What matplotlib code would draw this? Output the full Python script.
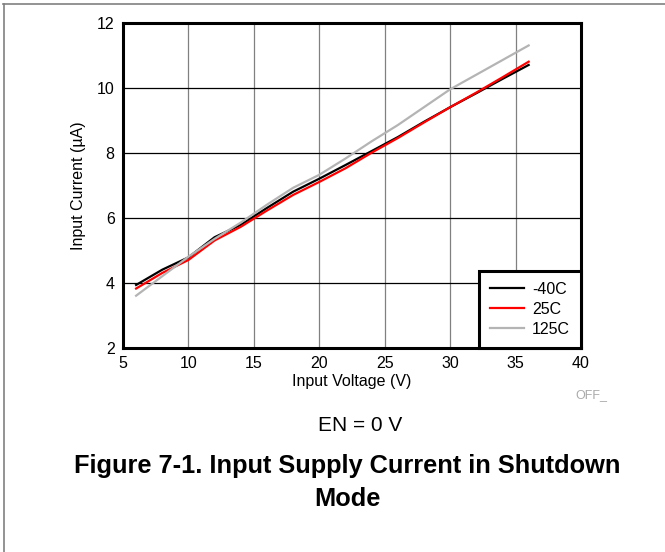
import matplotlib
matplotlib.use("Agg")
import matplotlib.pyplot as plt
from matplotlib.lines import Line2D

plt.rcParams["font.family"] = ["Liberation Sans", "DejaVu Sans"]

# data
volts = [6, 8, 10, 12, 14, 16, 18, 20, 22, 24, 26, 28, 30, 32, 34, 36]
i_m40 = [3.93, 4.40, 4.78, 5.40, 5.78, 6.30, 6.80, 7.20, 7.62, 8.05, 8.48, 8.95, 9.40, 9.83, 10.27, 10.70]
i_25 = [3.82, 4.30, 4.70, 5.30, 5.72, 6.22, 6.70, 7.10, 7.52, 8.00, 8.45, 8.93, 9.40, 9.85, 10.32, 10.80]
i_125 = [3.60, 4.20, 4.80, 5.35, 5.85, 6.40, 6.92, 7.32, 7.82, 8.35, 8.85, 9.40, 9.95, 10.40, 10.85, 11.30]
series_labels = ["-40C", "25C", "125C"]
series_colors = ["#000000", "#ff0000", "#b4b4b4"]
x_ticks = [5, 10, 15, 20, 25, 30, 35, 40]
y_ticks = [2, 4, 6, 8, 10, 12]

W, H = 665, 552
fig = plt.figure(figsize=(W / 100, H / 100), dpi=100)
ax = fig.add_axes([123 / W, 1 - 347.7 / H, (581 - 123) / W, (347.7 - 22.7) / H])

for ys, lab, col in zip([i_m40, i_25, i_125], series_labels, series_colors):
    ax.plot(volts, ys, color=col, lw=1.6, label=lab)

ax.set_xlim(5, 40)
ax.set_ylim(2, 12)
ax.set_xticks(x_ticks)
ax.set_yticks(y_ticks)
ax.tick_params(length=0, labelsize=11.5, pad=6)

# grid: vertical lines gray, horizontal lines black
for xv in x_ticks[1:-1]:
    ax.axvline(xv, color="#808080", lw=0.9, zorder=0)
for yv in y_ticks[1:-1]:
    ax.axhline(yv, color="#000000", lw=0.9, zorder=0)

for sp in ax.spines.values():
    sp.set_linewidth(2.2)

ax.set_xlabel("Input Voltage (V)", fontsize=11.5, labelpad=2)
ax.set_ylabel("Input Current (\u00b5A)", fontsize=11.5, labelpad=8)

leg = ax.legend(loc="lower right", borderaxespad=0, fontsize=11.5,
                fancybox=False, framealpha=1, handlelength=2.1,
                handletextpad=0.5, labelspacing=0.3, borderpad=0.7)
leg.get_frame().set_edgecolor("black")
leg.get_frame().set_linewidth(2.2)

fig.text(575 / W, 1 - 398 / H, "OFF_", fontsize=9, color="#aaaaaa", va="baseline")
fig.text(360 / W, 1 - 431 / H, "EN = 0 V", fontsize=15, ha="center", va="baseline")
fig.text(347 / W, 1 - 473 / H, "Figure 7-1. Input Supply Current in Shutdown",
         fontsize=18.3, fontweight="bold", ha="center", va="baseline")
fig.text(347 / W, 1 - 506 / H, "Mode", fontsize=18.3, fontweight="bold",
         ha="center", va="baseline")

# page frame lines (top and left)
fig.add_artist(Line2D([3 / W, 1], [1 - 4 / H, 1 - 4 / H], color="#808080", lw=1.2))
fig.add_artist(Line2D([4 / W, 4 / W], [0, 1 - 4 / H], color="#808080", lw=1.2))

fig.savefig("out.png", dpi=100)
